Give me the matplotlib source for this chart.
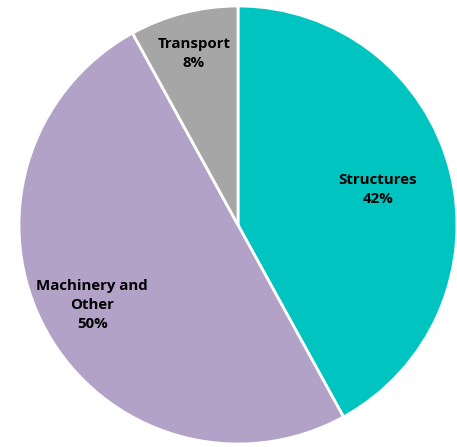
import numpy as np
from matplotlib import pyplot as plt

labels = ['Structures', 'Machinery and\nOther', 'Transport']
shares = [42, 50, 8]
colors = ['#00C4C0', '#B3A2C7', '#A6A6A6']
label_r = [0.66, 0.76, 0.81]


def plot_pie():
    fig = plt.figure(figsize=(4.57, 4.47), dpi=100)
    ax = fig.add_axes([0, 0, 1, 1])
    wedges, _ = ax.pie(shares, colors=colors, startangle=90, counterclock=False,
                       radius=1.0, wedgeprops=dict(edgecolor='white', linewidth=2))
    for w, lab, s, r in zip(wedges, labels, shares, label_r):
        mid = np.deg2rad((w.theta1 + w.theta2) / 2)
        ax.text(r * np.cos(mid), r * np.sin(mid), f'{lab}\n{s}%',
                ha='center', va='center', fontsize=10.8, fontweight='bold',
                family='Open Sans', linespacing=1.45)
    ax.set_xlim(-238 / 219, 219 / 219)
    ax.set_ylim(-222 / 219, 225 / 219)
    ax.set_aspect('equal')
    ax.axis('off')
    fig.savefig('out.png', dpi=100)


if __name__ == '__main__':
    plot_pie()
